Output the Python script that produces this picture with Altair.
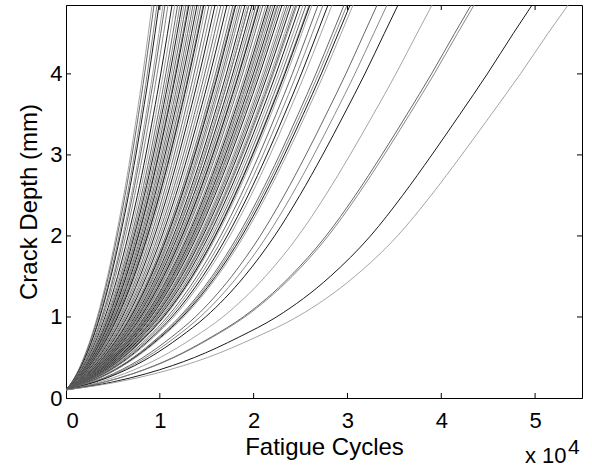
import altair as alt
import pandas as pd

# Crack depth levels (mm) and the fraction of each curve's final cycle count
# at which that depth is reached (read from the fastest and slowest curves)
depth_levels = [0.1, 0.2, 0.3, 0.4, 0.5, 0.75, 1.0, 1.5, 2.0, 2.5, 3.0, 3.5, 4.0, 4.5, 4.85]
frac_fast = [0.0, 0.070, 0.123, 0.168, 0.207, 0.292, 0.363, 0.482, 0.582, 0.671, 0.751, 0.824, 0.893, 0.957, 1.0]
frac_slow = [0.0, 0.105, 0.177, 0.234, 0.282, 0.378, 0.460, 0.575, 0.660, 0.727, 0.788, 0.847, 0.905, 0.960, 1.0]

# Cycles (x 10^4) at which each curve reaches the top of the plot (4.85 mm)
end_cycles = [
    0.917, 0.938, 0.970, 0.991, 1.034, 1.055, 1.087, 1.130, 1.160, 1.190,
    1.215, 1.237, 1.258, 1.279, 1.301, 1.311, 1.333, 1.354, 1.375, 1.397,
    1.418, 1.439, 1.461, 1.470, 1.493, 1.525, 1.557, 1.589, 1.621, 1.652,
    1.684, 1.716, 1.748, 1.780, 1.800, 1.810, 1.834, 1.855, 1.876, 1.908,
    1.930, 1.950, 1.951, 1.983, 2.004, 2.026, 2.050, 2.058, 2.079, 2.100,
    2.132, 2.154, 2.170, 2.186, 2.207, 2.228, 2.249, 2.260, 2.281, 2.303,
    2.335, 2.356, 2.377, 2.400, 2.431, 2.450, 2.463, 2.495, 2.527, 2.559,
    2.591, 2.600, 2.623, 2.687, 2.740, 2.793, 2.836, 2.964, 2.996, 3.028,
    3.060, 3.316, 3.422, 3.539, 3.902, 4.318, 4.350, 4.968, 5.352,
]

x_ticks = [0, 10000, 20000, 30000, 40000, 50000]
y_ticks = [0, 1, 2, 3, 4]

lo, hi = min(end_cycles), max(end_cycles)
rows = []
for i, e in enumerate(end_cycles):
    w = (e - lo) / (hi - lo)
    for j, a in enumerate(depth_levels):
        f = (1 - w) * frac_fast[j] + w * frac_slow[j]
        rows.append({"curve": i, "k": j, "N": e * f * 10000, "a": a, "shade": i % 4})
df = pd.DataFrame(rows)

W, H = 516, 393
FONT = "Liberation Sans"

x_enc = alt.X("N:Q", scale=alt.Scale(domain=[0, 55000], nice=False, zero=False),
              axis=alt.Axis(values=x_ticks, labelExpr="datum.value / 10000",
                            title="Fatigue Cycles", ticks=False, grid=False,
                            labelPadding=12, titlePadding=4))
y_enc = alt.Y("a:Q", scale=alt.Scale(domain=[0, 4.85], nice=False, zero=False),
              axis=alt.Axis(values=y_ticks, title="Crack Depth (mm)", ticks=False,
                            grid=False, labelPadding=4, titlePadding=8))

lines = alt.Chart(df).mark_line(strokeWidth=0.9, interpolate="monotone", clip=True).encode(
    x=x_enc, y=y_enc,
    detail="curve:N",
    order="k:Q",
    color=alt.Color("shade:N", legend=None,
                    scale=alt.Scale(domain=[0, 1, 2, 3],
                                    range=["#9a9a9a", "#555555", "#7a7a7a", "#000000"])),
)

xt = pd.DataFrame({"N": x_ticks[1:]})
yt = pd.DataFrame({"a": y_ticks[1:]})
tick_bottom = alt.Chart(xt).mark_rule(color="black", strokeWidth=1).encode(
    x=x_enc, y=alt.value(H), y2=alt.value(H - 5))
tick_top = alt.Chart(xt).mark_rule(color="black", strokeWidth=1).encode(
    x=x_enc, y=alt.value(0), y2=alt.value(5))
tick_left = alt.Chart(yt).mark_rule(color="black", strokeWidth=1).encode(
    y=y_enc, x=alt.value(0), x2=alt.value(5))
tick_right = alt.Chart(yt).mark_rule(color="black", strokeWidth=1).encode(
    y=y_enc, x=alt.value(W), x2=alt.value(W - 5))

exp_base = alt.Chart(pd.DataFrame({"t": ["x 10"]})).mark_text(
    align="left", baseline="alphabetic", font=FONT, fontSize=22, color="black").encode(
    x=alt.value(459), y=alt.value(458), text="t:N")
exp_pow = alt.Chart(pd.DataFrame({"t": ["4"]})).mark_text(
    align="left", baseline="alphabetic", font=FONT, fontSize=21, color="black").encode(
    x=alt.value(502), y=alt.value(449), text="t:N")

chart = alt.layer(lines, tick_bottom, tick_top, tick_left, tick_right, exp_base, exp_pow).properties(
    width=W, height=H,
    padding={"left": 66, "top": 5, "right": 10, "bottom": 71},
    autosize=alt.AutoSizeParams(type="none"),
    background="white",
).configure_view(stroke="black", strokeWidth=1).configure_axis(
    domainColor="black", domainWidth=1, labelFont=FONT, labelFontSize=22,
    labelColor="black", titleFont=FONT, titleFontSize=24, titleFontWeight="normal",
    titleColor="black",
)

chart.save("out.html", embed_options={"renderer": "svg", "actions": False})
